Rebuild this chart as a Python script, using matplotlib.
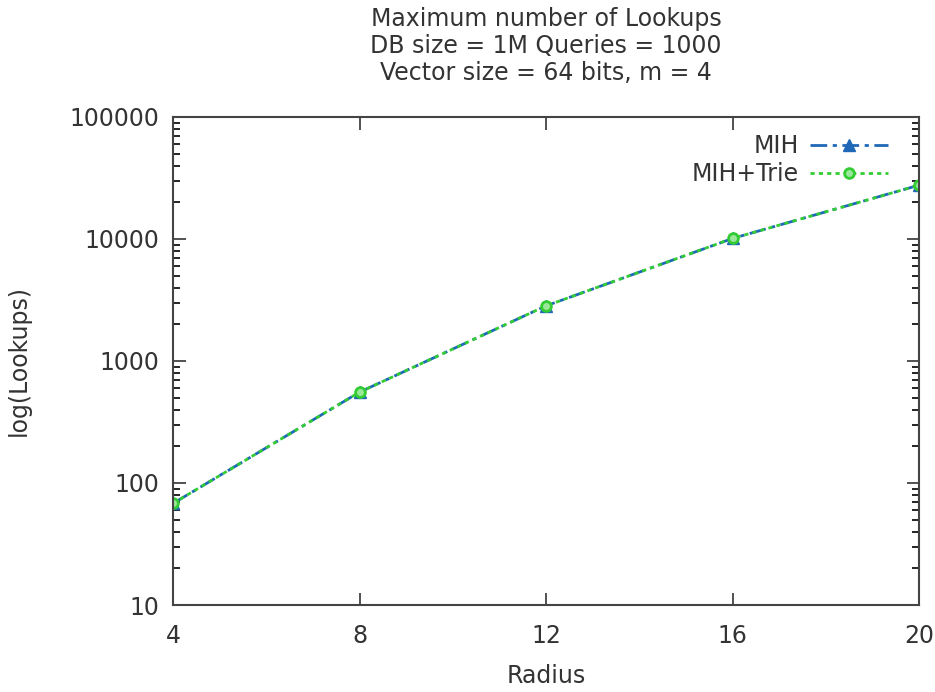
import numpy as np
import matplotlib.pyplot as plt
from matplotlib.ticker import LogLocator, NullFormatter

# data
radius = [4, 8, 12, 16, 20]
mihLookups = [68, 555, 2830, 10100, 27600]
trieLookups = [68, 555, 2830, 10100, 27600]

titleLines = ["Maximum number of Lookups", "DB size = 1M Queries = 1000", "Vector size = 64 bits, m = 4"]

fig = plt.figure(figsize=(9.35, 6.92), dpi=100)
ax = fig.add_axes([0.185, 0.1257, 0.798, 0.7053])

ax.plot(radius, mihLookups, color="#1f68b8", linestyle=(0, (6, 2, 1.5, 2)), linewidth=2,
        marker="^", markersize=8, label="MIH")
ax.plot(radius, trieLookups, color="#33cc33", linestyle=(0, (1.5, 1.5)), linewidth=2,
        marker="o", markersize=7, markerfacecolor="#9be89b", markeredgewidth=2, label="MIH+Trie")

ax.set_yscale("log")
ax.set_xlim(4, 20)
ax.set_ylim(10, 100000)
ax.set_xticks(radius)
ax.set_yticks([10, 100, 1000, 10000, 100000])
ax.set_yticklabels(["10", "100", "1000", "10000", "100000"])
ax.yaxis.set_minor_locator(LogLocator(base=10, subs=np.arange(2, 10)))
ax.yaxis.set_minor_formatter(NullFormatter())

ax.tick_params(axis="both", which="major", direction="in", length=9, width=1.2,
               top=True, right=True, labelsize=17, colors="#333333")
ax.tick_params(axis="x", which="major", pad=14)
ax.tick_params(axis="y", which="major", pad=10)
ax.tick_params(axis="both", which="minor", direction="in", length=5, width=1.2,
               top=True, right=True)
for s in ax.spines.values():
    s.set_color("#444444")
    s.set_linewidth(1.5)

ax.set_xlabel("Radius", fontsize=17, labelpad=11, color="#333333")
ax.set_ylabel("log(Lookups)", fontsize=17, labelpad=28, color="#333333")

fig.text(0.584, 0.99, "\n".join(titleLines), ha="center", va="top", fontsize=17,
         color="#333333", linespacing=1.17)

ax.legend(loc="upper right", bbox_to_anchor=(1.0, 1.027), frameon=False, markerfirst=False,
          fontsize=17, handlelength=3.3, handletextpad=0.5, borderaxespad=0.9, labelspacing=0.15,
          labelcolor="#333333")

fig.savefig("out.png", dpi=100)
